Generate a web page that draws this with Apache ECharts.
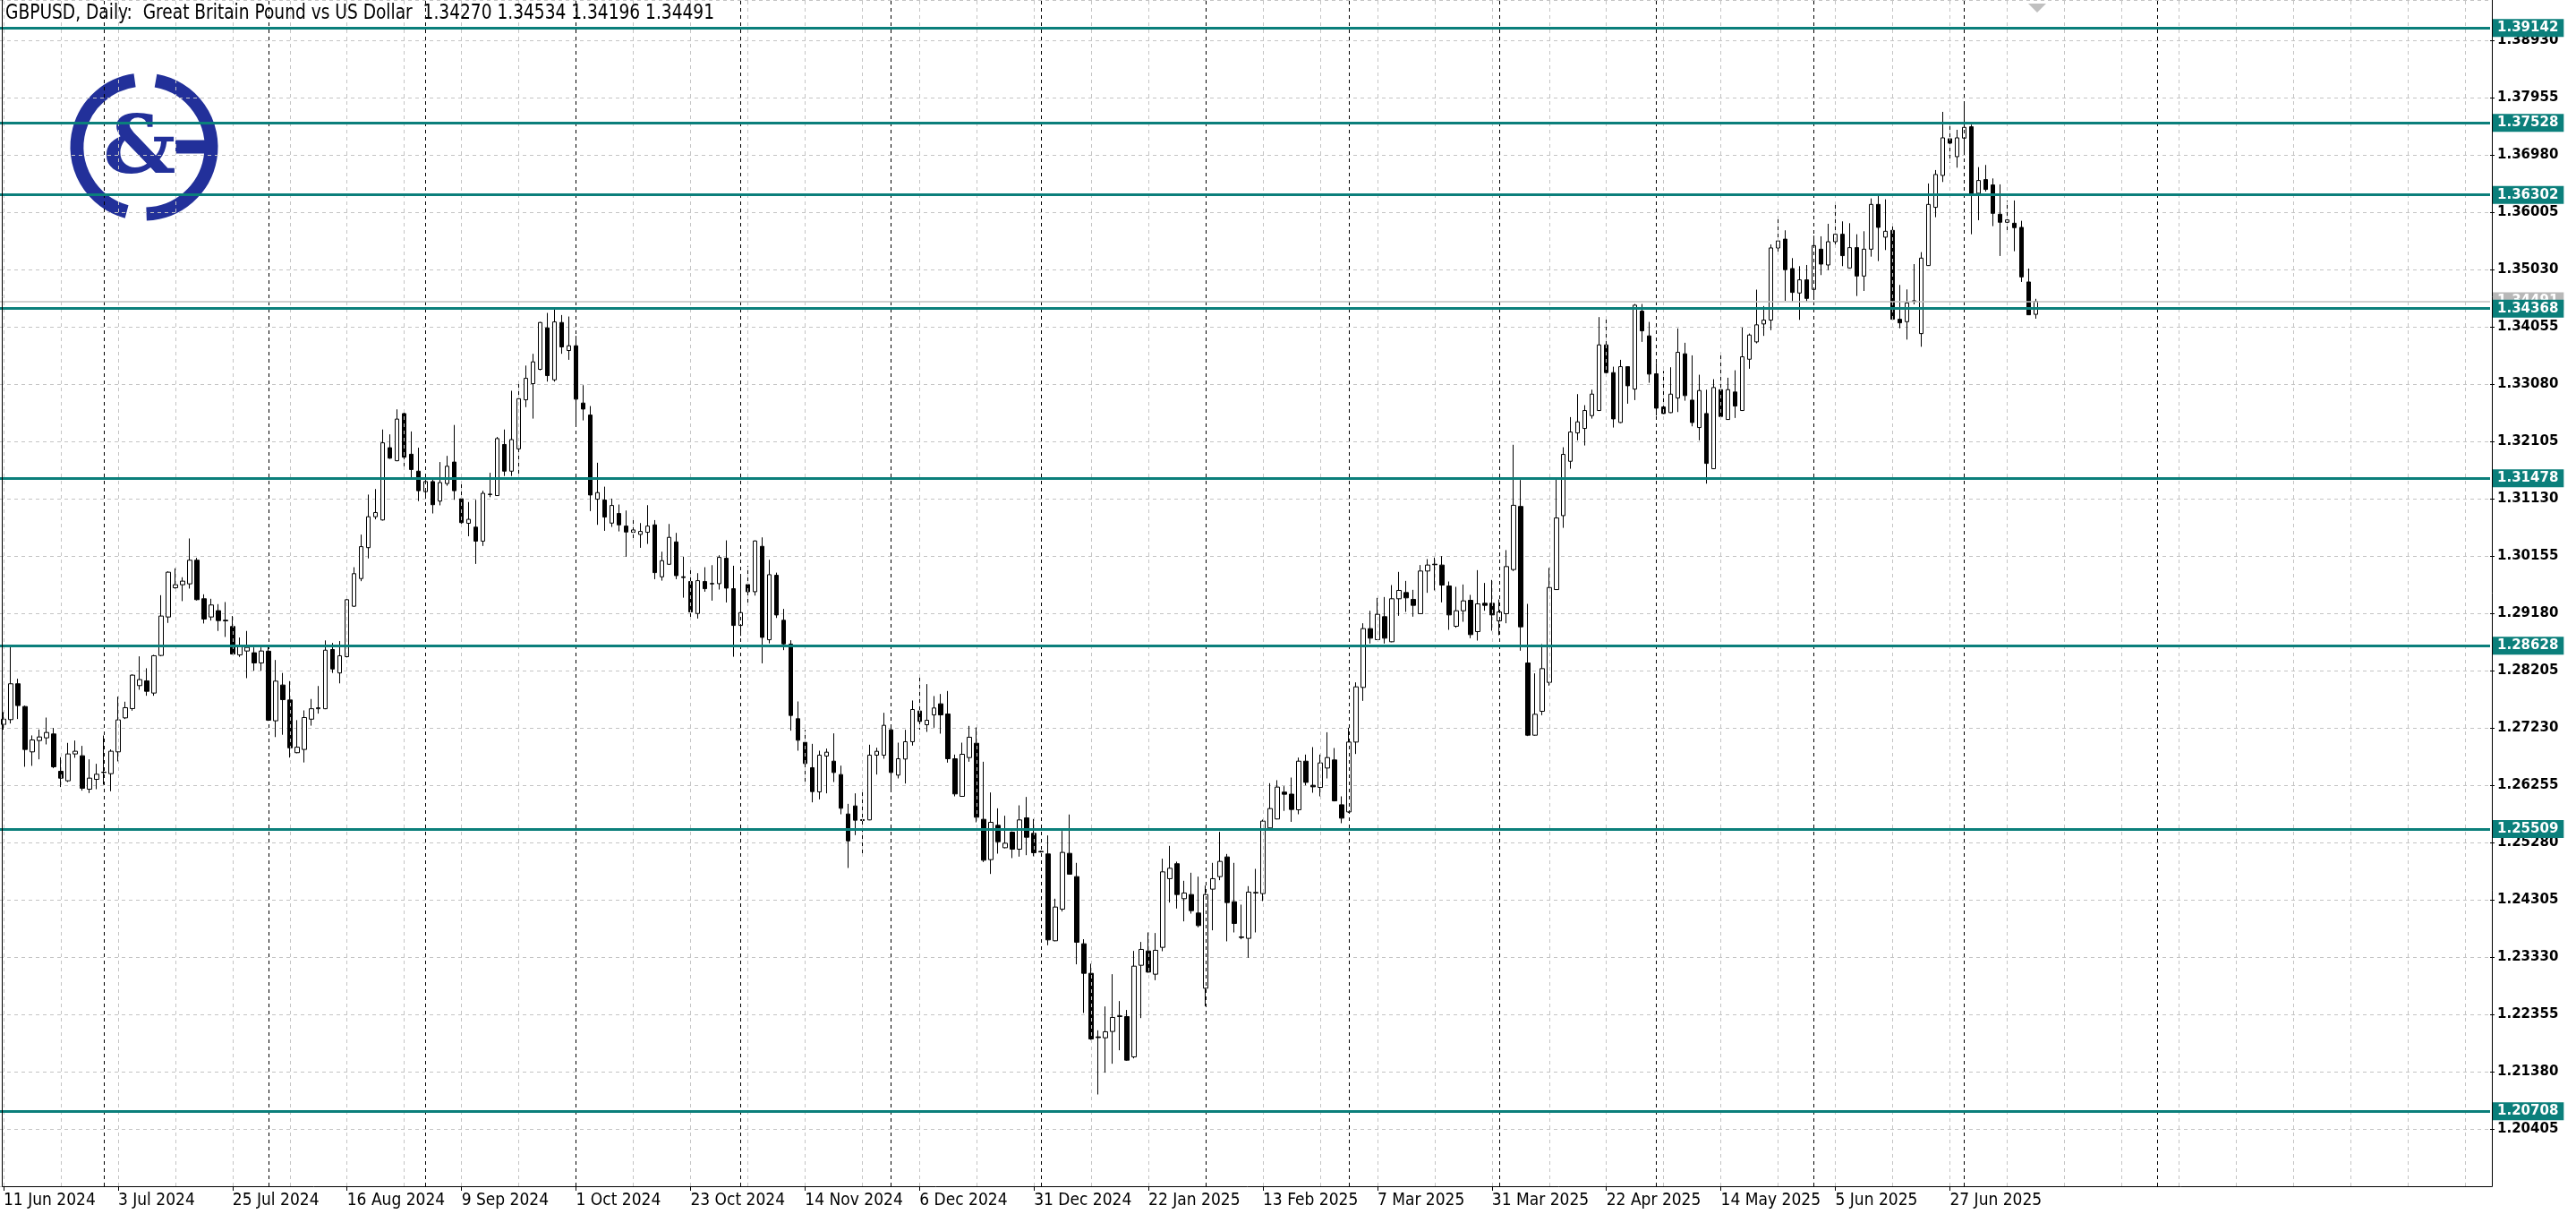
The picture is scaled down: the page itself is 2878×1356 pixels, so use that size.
<!DOCTYPE html>
<html><head><meta charset="utf-8">
<script src="https://cdn.jsdelivr.net/npm/echarts@6/dist/echarts.min.js"></script>
<style>html,body{margin:0;padding:0;background:#fff;overflow:hidden}#c{width:2878px;height:1356px}</style>
</head><body><div id="c"></div>
<script>
const headerText = 'GBPUSD, Daily:  Great Britain Pound vs US Dollar  1.34270 1.34534 1.34196 1.34491';
const dateLabels = ['11 Jun 2024','3 Jul 2024','25 Jul 2024','16 Aug 2024','9 Sep 2024','1 Oct 2024','23 Oct 2024','14 Nov 2024','6 Dec 2024','31 Dec 2024','22 Jan 2025','13 Feb 2025','7 Mar 2025','31 Mar 2025','22 Apr 2025','14 May 2025','5 Jun 2025','27 Jun 2025'];
const levelPrices = [1.39142, 1.37528, 1.36302, 1.34368, 1.31478, 1.28628, 1.25509, 1.20708];
const bidPrice = 1.34491;
const monthSeparators = [14, 37, 59, 80, 103, 124, 145, 168, 188, 209, 231, 253, 274, 301];

const opens = [1.2729,1.27372,1.27982,1.27595,1.26823,1.27016,1.27062,1.27128,1.26493,1.26331,
1.26788,1.26757,1.26188,1.26356,1.26478,1.26452,1.26823,1.27402,1.27560,1.27951,
1.28032,1.27824,1.28464,1.29119,1.29617,1.29668,1.29683,1.30085,1.29429,1.29119,
1.29226,1.29063,1.28957,1.28474,1.28540,1.28510,1.28337,1.28537,1.27352,1.27961,
1.27706,1.26809,1.26864,1.27380,1.27557,1.27557,1.28565,1.28166,1.28443,1.29302,
1.29773,1.30299,1.30825,1.30770,1.32000,1.31778,1.32581,1.31889,1.31601,1.31252,
1.31424,1.31091,1.31390,1.31756,1.31130,1.30714,1.30648,1.30410,1.31202,1.31185,
1.32055,1.31601,1.31980,1.32815,1.33090,1.33334,1.34040,1.33156,1.34131,1.33654,
1.33735,1.32760,1.32556,1.31124,1.31109,1.30717,1.30880,1.30666,1.30560,1.30524,
1.30560,1.30687,1.29803,1.30016,1.30397,1.29803,1.29722,1.29178,1.29722,1.29681,
1.29686,1.30118,1.29600,1.28975,1.29671,1.29549,1.30321,1.28731,1.29829,1.29063,
1.28657,1.27387,1.26985,1.26554,1.26142,1.26752,1.26665,1.26437,1.25766,1.25903,
1.25670,1.25665,1.26767,1.26767,1.27199,1.26427,1.26701,1.26996,1.27519,1.27285,
1.27453,1.27641,1.27468,1.26706,1.26066,1.26726,1.26970,1.25675,1.24989,1.25573,
1.25192,1.25456,1.25167,1.25700,1.25437,1.25130,1.25086,1.23608,1.24147,1.25096,
1.24700,1.23557,1.23054,1.21972,1.21957,1.22064,1.22318,1.22318,1.21632,1.23191,
1.23435,1.23039,1.23496,1.24665,1.24919,1.24324,1.24395,1.24080,1.22800,1.24487,
1.24700,1.25035,1.24273,1.23674,1.23649,1.24421,1.24411,1.25528,1.25681,1.26138,
1.26104,1.25837,1.26665,1.26254,1.26218,1.26548,1.26686,1.25923,1.25801,1.26990,
1.27920,1.28921,1.28733,1.29124,1.28697,1.29429,1.29535,1.29419,1.29175,1.29901,
1.30018,1.30003,1.29647,1.28961,1.29225,1.29403,1.28870,1.29352,1.29352,1.29053,
1.29175,1.29926,1.31000,1.28336,1.27107,1.27514,1.28006,1.29585,1.30844,1.31769,
1.32252,1.32328,1.32546,1.32633,1.33750,1.33278,1.32429,1.33379,1.32998,1.34324,
1.33903,1.33258,1.32693,1.32597,1.32846,1.33598,1.32810,1.32343,1.32582,1.31642,
1.32988,1.32480,1.32948,1.32633,1.33506,1.33801,1.34106,1.34172,1.35400,1.35550,
1.35049,1.34633,1.34857,1.34694,1.35379,1.35110,1.35506,1.35633,1.35059,1.35405,
1.34922,1.35379,1.36141,1.35583,1.35699,1.34186,1.34145,1.34491,1.33942,1.35100,
1.36091,1.36634,1.37259,1.36954,1.37269,1.37462,1.36330,1.36563,1.36472,1.35974,
1.35837,1.35821,1.35750,1.34821,1.34270];
const highs = [1.2750,1.28611,1.28068,1.27611,1.27103,1.27204,1.27407,1.27230,1.26732,1.26976,
1.27016,1.26925,1.26696,1.26620,1.27103,1.26864,1.27763,1.27677,1.28144,1.28449,
1.28246,1.28474,1.29490,1.29896,1.29947,1.29795,1.30455,1.30125,1.29505,1.29429,
1.29338,1.29373,1.29135,1.28769,1.28881,1.28601,1.28601,1.28609,1.28387,1.28166,
1.28027,1.27363,1.27529,1.27723,1.27944,1.28720,1.28676,1.28709,1.29452,1.29966,
1.30521,1.31202,1.31296,1.32310,1.32227,1.32653,1.32626,1.32277,1.32000,1.31462,
1.31462,1.31756,1.31861,1.32387,1.31424,1.31075,1.31113,1.31268,1.31573,1.32183,
1.32310,1.32969,1.33141,1.33398,1.33598,1.34141,1.34294,1.34360,1.34258,1.34233,
1.33903,1.33064,1.32709,1.31744,1.31337,1.31134,1.31033,1.30931,1.30829,1.30717,
1.31022,1.30768,1.30230,1.30702,1.30550,1.30143,1.29940,1.29864,1.29966,1.30001,
1.30169,1.30423,1.29991,1.29839,1.29991,1.30423,1.30474,1.30093,1.29874,1.29256,
1.28723,1.27681,1.27199,1.26960,1.26843,1.26879,1.27138,1.26589,1.25939,1.26117,
1.26157,1.26945,1.26894,1.27488,1.27234,1.26980,1.27199,1.27697,1.28098,1.27976,
1.27773,1.27808,1.27859,1.26777,1.26980,1.27265,1.27239,1.26655,1.26132,1.25862,
1.25736,1.25470,1.25913,1.26056,1.25681,1.25140,1.25401,1.24324,1.25477,1.25757,
1.24934,1.23634,1.23217,1.22084,1.22490,1.23039,1.22582,1.22430,1.23435,1.23588,
1.23750,1.23740,1.25005,1.25223,1.24954,1.24629,1.24766,1.24700,1.24548,1.24934,
1.25462,1.25086,1.24934,1.24223,1.24538,1.24832,1.25670,1.26290,1.26341,1.26239,
1.26386,1.26726,1.26777,1.26904,1.26777,1.27157,1.26889,1.26066,1.27234,1.28006,
1.29012,1.29225,1.29444,1.29459,1.29662,1.29886,1.29733,1.29581,1.30003,1.30104,
1.30130,1.30155,1.29723,1.29632,1.29672,1.29495,1.29916,1.29698,1.29749,1.29418,
1.30257,1.32050,1.31450,1.29342,1.28159,1.28656,1.29955,1.31464,1.32008,1.32521,
1.32912,1.32724,1.32988,1.34223,1.34233,1.33379,1.33496,1.33385,1.34446,1.34446,
1.34141,1.33445,1.33308,1.33369,1.34030,1.33786,1.33572,1.33242,1.32988,1.33166,
1.33598,1.33191,1.33318,1.34045,1.33943,1.34690,1.34411,1.35460,1.35930,1.35700,
1.35227,1.35090,1.35110,1.35608,1.35598,1.35811,1.36177,1.35852,1.35821,1.35633,
1.35684,1.36243,1.36294,1.36228,1.35786,1.34770,1.34694,1.35125,1.35329,1.36497,
1.36726,1.37716,1.37513,1.37411,1.37894,1.37498,1.36776,1.36812,1.36583,1.36482,
1.36208,1.36208,1.35862,1.35049,1.34534];
const lows = [1.2720,1.27306,1.27382,1.26569,1.26585,1.26696,1.26950,1.26545,1.26224,1.26310,
1.26722,1.26163,1.26122,1.26188,1.26265,1.26153,1.26661,1.27382,1.27524,1.27880,
1.27778,1.27778,1.28450,1.29018,1.29600,1.29389,1.29602,1.29400,1.29008,1.29058,
1.28881,1.28779,1.28480,1.28439,1.28078,1.28205,1.28205,1.27350,1.27075,1.27114,
1.26726,1.26800,1.26643,1.27269,1.27474,1.27550,1.28166,1.27989,1.28430,1.29290,
1.29728,1.30116,1.30781,1.30760,1.31810,1.31770,1.31684,1.31490,1.31091,1.31185,
1.30881,1.31019,1.31352,1.31113,1.30687,1.30493,1.30022,1.30327,1.31158,1.31180,
1.31518,1.31518,1.31540,1.32690,1.32495,1.33318,1.33125,1.33125,1.33598,1.33496,
1.32379,1.32465,1.30921,1.30687,1.30585,1.30651,1.30575,1.30143,1.30423,1.30296,
1.30362,1.29762,1.29737,1.30010,1.29762,1.29447,1.29062,1.29092,1.29549,1.29397,
1.29585,1.29366,1.28442,1.28797,1.29331,1.29483,1.28330,1.28670,1.29102,1.28555,
1.27184,1.26843,1.26284,1.25964,1.26015,1.26117,1.26310,1.25761,1.24847,1.25406,
1.25050,1.25660,1.26437,1.26706,1.26157,1.26371,1.26284,1.26930,1.27199,1.27163,
1.27234,1.27133,1.26640,1.26066,1.26060,1.26655,1.25624,1.24948,1.24745,1.25091,
1.25182,1.25015,1.25040,1.25065,1.25046,1.25110,1.23532,1.23600,1.24106,1.24735,
1.23207,1.22379,1.21921,1.20992,1.21363,1.21515,1.21744,1.21566,1.21606,1.22292,
1.23065,1.22937,1.23430,1.24258,1.24157,1.23938,1.24070,1.23837,1.22495,1.23786,
1.24639,1.23598,1.23750,1.23634,1.23319,1.23750,1.24284,1.25520,1.25675,1.25818,
1.25632,1.25761,1.26254,1.26127,1.26066,1.26371,1.25980,1.25609,1.25786,1.26787,
1.27691,1.28667,1.28725,1.28667,1.28690,1.29139,1.29205,1.29124,1.29170,1.29530,
1.29571,1.29368,1.28900,1.28936,1.29037,1.28758,1.28717,1.29225,1.28885,1.28809,
1.29012,1.29900,1.28545,1.27092,1.27100,1.27447,1.27950,1.29580,1.30636,1.31642,
1.32125,1.32038,1.32495,1.32625,1.33268,1.32343,1.32420,1.32749,1.32810,1.33801,
1.33105,1.32546,1.32575,1.32590,1.32607,1.32800,1.32363,1.32125,1.31388,1.31635,
1.32506,1.32475,1.32506,1.32625,1.33344,1.33776,1.33903,1.34000,1.35300,1.34500,
1.34491,1.34176,1.34491,1.34516,1.34938,1.35024,1.35430,1.35090,1.35050,1.34582,
1.34668,1.35252,1.35176,1.35364,1.34176,1.34033,1.33840,1.34440,1.33718,1.35095,
1.35923,1.36522,1.36853,1.36766,1.37030,1.35633,1.35872,1.36360,1.35771,1.35263,
1.35649,1.35344,1.34821,1.34262,1.34196];
const closes = [1.2738,1.27982,1.27611,1.26864,1.27026,1.27077,1.27153,1.26569,1.26376,1.26788,
1.26834,1.26204,1.26376,1.26442,1.26472,1.26834,1.27367,1.27575,1.28129,1.28053,
1.27854,1.28459,1.29135,1.29881,1.29668,1.29729,1.30085,1.29414,1.29084,1.29323,
1.29058,1.29053,1.28489,1.28611,1.28601,1.28337,1.28540,1.27363,1.28027,1.27712,
1.26892,1.26903,1.27407,1.27557,1.27573,1.28554,1.28233,1.28459,1.29413,1.29856,
1.30316,1.30825,1.30897,1.32083,1.31822,1.32487,1.31839,1.31629,1.31268,1.31424,
1.31030,1.31407,1.31684,1.31268,1.30725,1.30781,1.30410,1.31224,1.31210,1.32155,
1.31601,1.32138,1.32834,1.33181,1.33461,1.34131,1.33227,1.34141,1.33715,1.33735,
1.32826,1.32658,1.31195,1.31236,1.30819,1.31017,1.30687,1.30565,1.30600,1.30575,
1.30666,1.29874,1.30077,1.30474,1.29823,1.29790,1.29204,1.29737,1.29600,1.29690,
1.30133,1.29610,1.28975,1.29194,1.29549,1.30413,1.28772,1.29839,1.29153,1.28662,
1.27443,1.27021,1.26625,1.26147,1.26767,1.26818,1.26472,1.25863,1.25309,1.25660,
1.25655,1.26767,1.26833,1.27275,1.26472,1.26706,1.26996,1.27544,1.27341,1.27361,
1.27570,1.27453,1.26706,1.26107,1.26782,1.27072,1.25710,1.24979,1.25624,1.25294,
1.25268,1.25167,1.25665,1.25370,1.25107,1.25120,1.23623,1.24182,1.25112,1.24741,
1.23583,1.23054,1.21937,1.21960,1.22059,1.22303,1.22330,1.21576,1.23176,1.23461,
1.23075,1.23446,1.24781,1.24842,1.24395,1.24421,1.24121,1.23867,1.24395,1.24665,
1.24959,1.24258,1.23903,1.23664,1.24436,1.24431,1.25645,1.25858,1.26224,1.26102,
1.25843,1.26665,1.26304,1.26228,1.26635,1.26726,1.25989,1.25695,1.26990,1.27930,
1.28921,1.28758,1.29164,1.28758,1.29429,1.29571,1.29444,1.29317,1.29901,1.30003,
1.30008,1.29662,1.29154,1.29225,1.29393,1.28819,1.29342,1.29317,1.29154,1.29205,
1.29977,1.31020,1.28951,1.27107,1.27463,1.28240,1.29620,1.30804,1.31886,1.32267,
1.32440,1.32633,1.32912,1.33750,1.33278,1.32490,1.33379,1.33054,1.34426,1.33989,
1.33253,1.32673,1.32582,1.32912,1.33623,1.32887,1.32429,1.32973,1.31733,1.33024,
1.32531,1.32988,1.32709,1.33547,1.33918,1.34091,1.34172,1.35400,1.35520,1.35030,
1.34643,1.34857,1.34541,1.35440,1.35125,1.35506,1.35633,1.35268,1.35405,1.34922,
1.35379,1.36141,1.35750,1.35684,1.34186,1.34125,1.34465,1.34501,1.35227,1.36141,
1.36650,1.37274,1.37183,1.37274,1.37452,1.36330,1.36548,1.36396,1.35989,1.35837,
1.35877,1.35745,1.34907,1.34262,1.34491];

const SLOTS = 348;
const TEAL = '#0b7f7b';
const LOGO = '#22309a';
const categories = Array.from({length: SLOTS}, (_, i) => String(i));
const candleData = opens.map((o, i) => [o, closes[i], lows[i], highs[i]]);
const gridLines = [];
for (let i = 0; i < SLOTS; i += 8) gridLines.push({xAxis: i});

function pickFont(cands, fallback) {
  const cv = document.createElement('canvas').getContext('2d');
  const probe = 'mmmmmwwwwwiiiiil 1234567890';
  for (const f of cands) {
    for (const base of ['monospace', 'serif']) {
      cv.font = '40px ' + base; const w0 = cv.measureText(probe).width;
      cv.font = '40px "' + f + '", ' + base; const w1 = cv.measureText(probe).width;
      if (Math.abs(w0 - w1) > 0.5) return f;
    }
  }
  return fallback;
}
const narrowFont = pickFont(['DejaVu Sans Condensed', 'Liberation Sans Narrow', 'Roboto Condensed', 'Roboto'], 'sans-serif');
const axisFont = 'DejaVu Sans';
const headerSize = 23;
const headerScale = (function () {
  const cv = document.createElement('canvas').getContext('2d');
  cv.font = headerSize + 'px "' + narrowFont + '"';
  return 792 / cv.measureText(headerText).width;
})();
const isLabelIdx = (idx) => idx % 16 === 0 && idx / 16 < dateLabels.length;

const chart = echarts.init(document.getElementById('c'), null, {renderer: 'canvas'});
chart.setOption({
  animation: false,
  backgroundColor: '#ffffff',
  grid: {left: -2, top: 0, width: SLOTS * 8, height: 1325, containLabel: false},
  xAxis: {
    type: 'category', data: categories, boundaryGap: true,
    axisLine: {show: false},
    axisTick: {show: true, alignWithLabel: true, interval: isLabelIdx, length: 5, lineStyle: {color: '#000'}},
    axisLabel: {show: true, interval: isLabelIdx, align: 'left', margin: 7,
      formatter: (v, idx) => dateLabels[idx / 16] || '',
      fontFamily: narrowFont, fontSize: 19, color: '#000'},
    splitLine: {show: false}
  },
  yAxis: {
    type: 'value', position: 'right', min: 1.1943, max: 1.3962, interval: 0.00975,
    axisLine: {show: false},
    axisTick: {show: true, length: 5, lineStyle: {color: '#000'}},
    axisLabel: {show: true, margin: 8, showMinLabel: false, showMaxLabel: false,
      formatter: (v) => v.toFixed(5), fontFamily: axisFont, fontWeight: 'bold', fontSize: 15, color: '#000'},
    splitLine: {show: true, lineStyle: {color: '#c4c4c4', type: [4, 4], width: 1}}
  },
  series: [
    {
      type: 'line', data: [], z: 1, silent: true,
      markLine: {silent: true, symbol: 'none', animation: false, precision: 5, label: {show: false},
        lineStyle: {color: '#c4c4c4', type: [4, 4], width: 1}, data: gridLines}
    },
    {
      type: 'line', data: [], z: 1, silent: true,
      markLine: {silent: true, symbol: 'none', animation: false, precision: 5, label: {show: false},
        lineStyle: {color: '#000', type: [4, 4], width: 1},
        data: monthSeparators.map(i => ({xAxis: i}))}
    },
    {
      type: 'line', data: [], z: 2, silent: true,
      markLine: {silent: true, symbol: 'none', animation: false, precision: 5,
        lineStyle: {color: '#c0c0c0', type: 'solid', width: 1.5},
        label: {show: true, position: 'end', distance: 2, formatter: bidPrice.toFixed(5),
          backgroundColor: '#b8b8b8', color: '#fff', fontFamily: axisFont, fontWeight: 'bold', fontSize: 15, padding: [3, 6, 2, 6]},
        data: [{yAxis: bidPrice}]}
    },
    {
      type: 'candlestick', data: candleData, z: 3, barWidth: 5, silent: true,
      itemStyle: {color: '#ffffff', color0: '#000000', borderColor: '#000000', borderColor0: '#000000', borderColorDoji: '#000000', borderWidth: 1}
    },
    {
      type: 'line', data: [], z: 5, silent: true,
      markLine: {silent: true, symbol: 'none', animation: false, precision: 5,
        lineStyle: {color: TEAL, type: 'solid', width: 3},
        label: {show: true, position: 'end', distance: 2, formatter: (p) => Number(p.value).toFixed(5),
          backgroundColor: TEAL, color: '#fff', fontFamily: axisFont, fontWeight: 'bold', fontSize: 15, padding: [3, 6, 2, 6]},
        data: levelPrices.map(v => ({yAxis: v}))}
    }
  ],
  graphic: [
    {type: 'line', shape: {x1: 2.5, y1: 0, x2: 2.5, y2: 1325.5}, style: {stroke: '#000', lineWidth: 1}, z: 100},
    {type: 'line', shape: {x1: 2784.5, y1: 0, x2: 2784.5, y2: 1325.5}, style: {stroke: '#000', lineWidth: 1}, z: 100},
    {type: 'line', shape: {x1: 2.5, y1: 1325.5, x2: 2784.5, y2: 1325.5}, style: {stroke: '#000', lineWidth: 1}, z: 100},
    {type: 'text', x: 6, y: 4, scaleX: headerScale, z: 100, style: {text: headerText, fontFamily: narrowFont, fontSize: headerSize, fill: '#000'}},
    {type: 'polygon', z: 100, shape: {points: [[2266, 4], [2286, 4], [2276, 14]]}, style: {fill: '#c0c0c0'}},
    {type: 'group', z: 100, children: [
      {type: 'arc', shape: {cx: 161, cy: 164, r: 75, startAngle: Math.PI * 105 / 180, endAngle: Math.PI * 262 / 180, clockwise: true}, style: {stroke: LOGO, lineWidth: 15, fill: null}},
      {type: 'arc', shape: {cx: 161, cy: 164, r: 75, startAngle: Math.PI * 280 / 180, endAngle: Math.PI * 88 / 180, clockwise: true}, style: {stroke: LOGO, lineWidth: 15, fill: null}},
      {type: 'line', shape: {x1: 196, y1: 164, x2: 240, y2: 164}, style: {stroke: LOGO, lineWidth: 15}},
      {type: 'text', x: 156, y: 170, style: {text: '&', fontFamily: 'DejaVu Serif', fontWeight: 'bold', fontSize: 90, fill: LOGO, align: 'center', verticalAlign: 'middle'}}
    ]}
  ]
});
</script></body></html>
